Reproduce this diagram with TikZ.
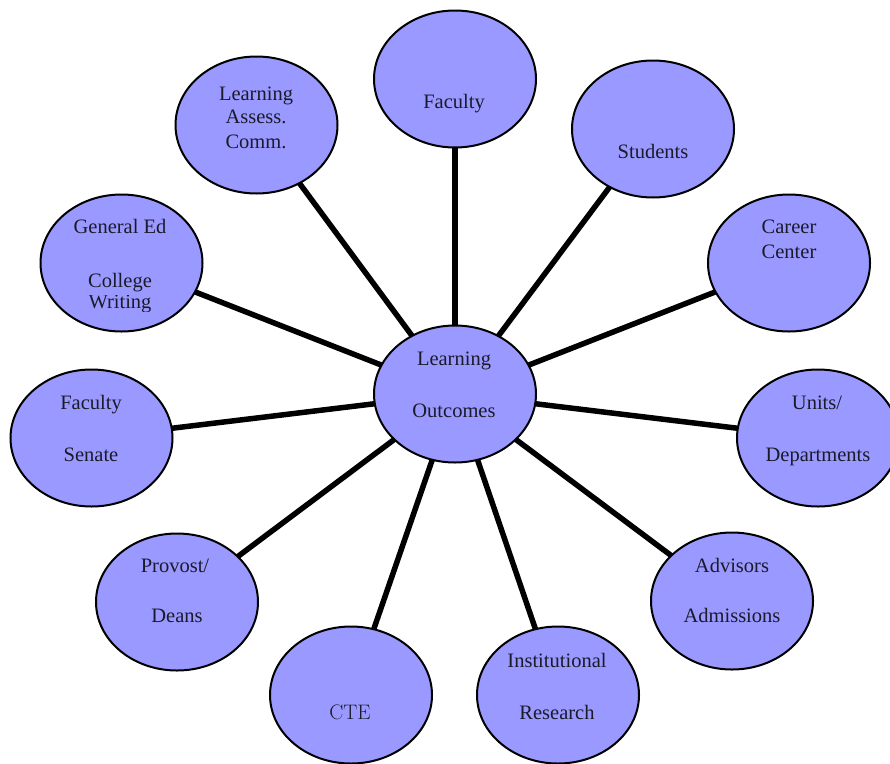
\documentclass[tikz,border=0pt]{standalone}
\usepackage{fontspec}
\newfontfamily\gar{Liberation Serif}
\usetikzlibrary{shapes.geometric,backgrounds}
\definecolor{bub}{HTML}{9999FF}
\definecolor{ink}{HTML}{1A1A2A}
\begin{document}
\begin{tikzpicture}[x=1pt,y=-1pt,
  bubble/.style={ellipse, draw=black, line width=2pt, fill=bub,
    minimum width=162pt, minimum height=137pt, inner sep=0pt},
  lbl/.style={anchor=base, font=\gar\fontsize{20.5}{24}\selectfont, inner sep=0pt, text=ink},
  lblcm/.style={anchor=base, font=\fontsize{21}{24}\selectfont, inner sep=0pt, text=ink},
  conn/.style={line width=5.5pt, draw=black}]
\useasboundingbox (0,0) rectangle (890,763);
\clip (0,0) rectangle (890,763);

% bubbles
\node[bubble] (lo)  at (455,394) {};
\node[bubble] (fac) at (455,79) {};
\node[bubble] (stu) at (653,129) {};
\node[bubble] (car) at (789,263) {};
\node[bubble] (uni) at (818,438) {};
\node[bubble] (adv) at (732,601) {};
\node[bubble] (ir)  at (558,695) {};
\node[bubble] (cte) at (351,695) {};
\node[bubble] (pro) at (177,602) {};
\node[bubble] (fs)  at (91.5,438) {};
\node[bubble] (ge)  at (121.5,263) {};
\node[bubble] (lac) at (256.5,125) {};

% connectors
\begin{scope}[on background layer]
\foreach \t in {fac,stu,car,uni,adv,ir,cte,pro,fs,ge,lac}
  \draw[conn] (lo.center) -- (\t.center);
\end{scope}

% labels
\node[lbl] (lo1) at (454,365) {Learning};
\node[lbl] (lo2) at (454,417) {Outcomes};
\node[lbl] (fac1) at (454,108) {Faculty};
\node[lbl] (stu1) at (653,158) {Students};
\node[lbl] (car1) at (789,233) {Career};
\node[lbl] (car2) at (789,258) {Center};
\node[lbl] (uni1) at (817,409) {Units/};
\node[lbl] (uni2) at (818,461) {Departments};
\node[lbl] (adv1) at (732,572) {Advisors};
\node[lbl] (adv2) at (732,622) {Admissions};
\node[lbl] (ir1) at (557,667) {Institutional};
\node[lbl] (ir2) at (557,719) {Research};
\node[lblcm] (cte1) at (350,719) {CTE};
\node[lbl] (pro1) at (175,572) {Provost/};
\node[lbl] (pro2) at (177,622) {Deans};
\node[lbl] (fs1) at (91,409) {Faculty};
\node[lbl] (fs2) at (91,461) {Senate};
\node[lbl] (ge1) at (120,233) {General Ed};
\node[lbl] (ge2) at (120,287) {College};
\begin{scope}
  \clip (30,295) rectangle (210,311);
  \node[lbl] (ge3) at (120,308) {Writing};
\end{scope}
\node[lbl] (lac1) at (256,100) {Learning};
\node[lbl] (lac2) at (256,123) {Assess.};
\node[lbl] (lac3) at (256,148) {Comm.};
\end{tikzpicture}
\end{document}
